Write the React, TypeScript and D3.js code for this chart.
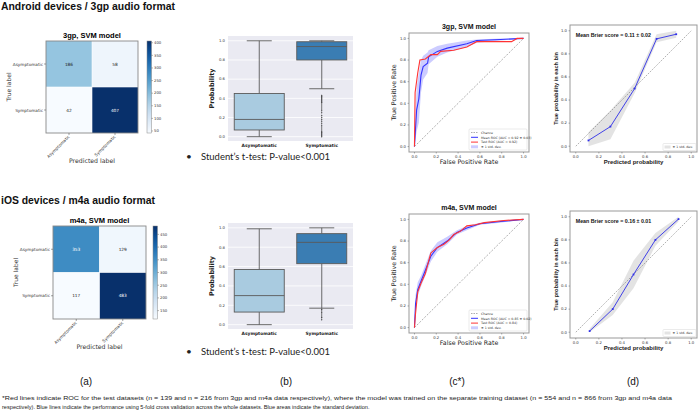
import React from "react";
import * as d3 from "d3";

// ---------------- DATA ----------------
const classLabels = ["Asymptomatic", "Symptomatic"];
const cm3gp = [[186, 58], [42, 407]];
const cmM4a = [[353, 129], [117, 483]];
const cbTicks3gp = [50, 100, 150, 200, 250, 300, 350, 400];
const cbTicksM4a = [150, 200, 250, 300, 350, 400, 450];

// box plot stats per class [Asymptomatic, Symptomatic]
const boxLo3gp = [0.0, 0.5];
const boxQ1_3gp = [0.07, 0.8];
const boxMed3gp = [0.18, 0.94];
const boxQ3_3gp = [0.45, 0.99];
const boxHi3gp = [1.0, 1.0];
const outliers3gp = [0.43, 0.42, 0.41, 0.4, 0.39, 0.38, 0.37, 0.36, 0.35, 0.33, 0.31, 0.29, 0.27, 0.25, 0.22, 0.2, 0.18, 0.16, 0.14, 0.12, 0.1, 0.08, 0.06, 0.05, 0.04, 0.03, 0.02, 0.01, 0.0];

const boxLoM4a = [0.0, 0.17];
const boxQ1_M4a = [0.13, 0.63];
const boxMedM4a = [0.3, 0.85];
const boxQ3_M4a = [0.57, 0.94];
const boxHiM4a = [0.99, 1.0];
const outliersM4a = [0.16, 0.15, 0.13, 0.12, 0.1, 0.08, 0.07, 0.05];

const unitTicks = [0, 0.2, 0.4, 0.6, 0.8, 1.0];

// ROC curves [fpr, tpr]
const rocMean3gp: [number, number][] = [[0, 0], [0.02, 0.34], [0.04, 0.44], [0.06, 0.66], [0.08, 0.74], [0.12, 0.77], [0.13, 0.83], [0.21, 0.88], [0.3, 0.91], [0.48, 0.95], [0.57, 0.98], [0.79, 0.99], [1, 1]];
const rocUpper3gp = [0.05, 0.55, 0.68, 0.8, 0.84, 0.87, 0.89, 0.93, 0.95, 0.98, 0.99, 1.0, 1.0];
const rocLower3gp = [0.0, 0.14, 0.22, 0.5, 0.62, 0.68, 0.76, 0.83, 0.87, 0.92, 0.96, 0.98, 1.0];
const rocTest3gp: [number, number][] = [[0, 0], [0.006, 0.5], [0.03, 0.68], [0.05, 0.8], [0.1, 0.81], [0.15, 0.85], [0.21, 0.85], [0.24, 0.88], [0.36, 0.89], [0.48, 0.92], [0.57, 0.97], [0.89, 0.97], [0.94, 1.0], [1, 1]];

const rocMeanM4a: [number, number][] = [[0, 0], [0.01, 0.22], [0.03, 0.35], [0.06, 0.43], [0.1, 0.53], [0.15, 0.66], [0.21, 0.74], [0.3, 0.8], [0.39, 0.88], [0.48, 0.92], [0.6, 0.96], [0.79, 0.98], [1, 1]];
const rocUpperM4a = [0.02, 0.3, 0.42, 0.48, 0.58, 0.71, 0.79, 0.84, 0.9, 0.94, 0.97, 0.99, 1.0];
const rocLowerM4a = [0.0, 0.15, 0.29, 0.38, 0.48, 0.61, 0.7, 0.77, 0.86, 0.9, 0.95, 0.97, 1.0];
const rocTestM4a: [number, number][] = [[0, 0], [0.01, 0.13], [0.03, 0.33], [0.06, 0.41], [0.1, 0.5], [0.15, 0.69], [0.21, 0.74], [0.27, 0.77], [0.32, 0.81], [0.36, 0.86], [0.42, 0.89], [0.48, 0.94], [0.56, 0.95], [0.64, 0.97], [0.82, 0.99], [1, 1]];

// Calibration curves [mean predicted, fraction positive]
const cal3gp: [number, number][] = [[0.11, 0.05], [0.3, 0.17], [0.51, 0.5], [0.7, 0.93], [0.87, 0.97]];
const cal3gpLo = [0.0, 0.06, 0.46, 0.9, 0.94];
const cal3gpHi = [0.12, 0.31, 0.55, 0.97, 1.0];
const calM4a: [number, number][] = [[0.12, 0.01], [0.32, 0.2], [0.5, 0.5], [0.69, 0.8], [0.89, 0.98]];
const calM4aLo = [0.0, 0.15, 0.38, 0.75, 0.96];
const calM4aHi = [0.03, 0.26, 0.62, 0.86, 1.0];

const panelLabels = ["(a)", "(b)", "(c*)", "(d)"];
const footLine1 = "*Red lines indicate ROC for the test datasets (n = 139 and n =  216 from 3gp and m4a data respectively), where the model was trained on the separate training dataset (n = 554 and n =  866 from 3gp and m4a data";
const footLine2 = "respectively). Blue lines indicate the performance using 5-fold cross validation across the whole datasets. Blue areas indicate the standard deviation.";

// ---------------- STYLE ----------------
const MPL = "DejaVu Sans, sans-serif";
const ARIAL = "Liberation Sans, Arial, sans-serif";
const fmt1 = d3.format(".1f");

// ---------------- COMPONENTS ----------------
function ConfMat({ id, title, data, ticks, left, top, size, cbX }: any) {
  const flat = data.flat();
  const mn = d3.min(flat) as number, mx = d3.max(flat) as number;
  const color = d3.scaleSequential(d3.interpolateBlues).domain([mn, mx]);
  const xb = d3.scaleBand<number>().domain([0, 1]).range([left, left + size]);
  const yb = d3.scaleBand<number>().domain([0, 1]).range([top, top + size]);
  const cy = d3.scaleLinear().domain([mn, mx]).range([top + size, top]);
  const thresh = (mn + mx) / 2;
  const stops = d3.range(0, 1.0001, 0.1);
  const cbW = 4.5;
  return (
    <g>
      <defs>
        <linearGradient id={id} x1="0" y1="1" x2="0" y2="0">
          {stops.map((t) => (
            <stop key={t} offset={t} stopColor={color(mn + t * (mx - mn))} />
          ))}
        </linearGradient>
      </defs>
      <text x={left + size / 2} y={top - 3} textAnchor="middle" fontFamily={ARIAL} fontWeight="bold" fontSize={7.5}>{title}</text>
      {data.map((row: number[], i: number) =>
        row.map((v, j) => (
          <g key={`${i}-${j}`}>
            <rect x={xb(j)} y={yb(i)} width={xb.bandwidth()} height={yb.bandwidth()} fill={color(v)} />
            <text x={(xb(j) as number) + xb.bandwidth() / 2} y={(yb(i) as number) + yb.bandwidth() / 2 + 1.5} textAnchor="middle" fontFamily={MPL} fontSize={4.3} fill={v > thresh ? "#fff" : "#222"}>{v}</text>
          </g>
        ))
      )}
      <line x1={left + size / 2} x2={left + size / 2} y1={top} y2={top + size} stroke="#fff" strokeWidth={0.6} />
      <line x1={left} x2={left + size} y1={top + size / 2} y2={top + size / 2} stroke="#fff" strokeWidth={0.6} />
      <rect x={left} y={top} width={size} height={size} fill="none" stroke="#888" strokeWidth={0.9} />
      {classLabels.map((l, i) => (
        <g key={l}>
          <line x1={left - 2} x2={left} y1={(yb(i) as number) + yb.bandwidth() / 2} y2={(yb(i) as number) + yb.bandwidth() / 2} stroke="#444" strokeWidth={0.5} />
          <text x={left - 3} y={(yb(i) as number) + yb.bandwidth() / 2 + 1.5} textAnchor="end" fontFamily={MPL} fontSize={4.2} fill="#333">{l}</text>
          <line x1={(xb(i) as number) + xb.bandwidth() / 2} x2={(xb(i) as number) + xb.bandwidth() / 2} y1={top + size} y2={top + size + 2} stroke="#444" strokeWidth={0.5} />
          <text transform={`translate(${(xb(i) as number) + xb.bandwidth() / 2 + 1},${top + size + 4}) rotate(-45)`} textAnchor="end" fontFamily={MPL} fontSize={4.2} fill="#333">{l}</text>
        </g>
      ))}
      <text transform={`translate(${left - 35},${top + size / 2}) rotate(-90)`} textAnchor="middle" fontFamily={MPL} fontSize={6} fill="#333">True label</text>
      <text x={left + size / 2} y={top + size + 30} textAnchor="middle" fontFamily={MPL} fontSize={6.2} fill="#333">Predicted label</text>
      <rect x={cbX} y={top} width={cbW} height={size} fill={`url(#${id})`} stroke="#888" strokeWidth={0.5} />
      {ticks.map((t: number) => (
        <g key={t}>
          <line x1={cbX + cbW} x2={cbX + cbW + 1.5} y1={cy(t)} y2={cy(t)} stroke="#444" strokeWidth={0.4} />
          <text x={cbX + cbW + 2.5} y={cy(t) + 1.3} fontFamily={MPL} fontSize={3.8} fill="#333">{t}</text>
        </g>
      ))}
    </g>
  );
}

function BoxPlot({ lo, q1, med, q3, hi, outliers, left, top, w, h }: any) {
  const y = d3.scaleLinear().domain([-0.045, 1.05]).range([top + h, top]);
  const x = d3.scaleBand<number>().domain([0, 1]).range([left, left + w]);
  const bw = x.bandwidth() * 0.8;
  const fills = ["#a9cbe0", "#3a7db3"];
  const edge = "#5a5a5a";
  return (
    <g>
      <rect x={left} y={top} width={w} height={h} fill="#eaeaf2" />
      {unitTicks.map((t) => (
        <g key={t}>
          <line x1={left} x2={left + w} y1={y(t)} y2={y(t)} stroke="#fff" strokeWidth={0.8} />
          <text x={left - 3} y={y(t) + 1.3} textAnchor="end" fontFamily={MPL} fontSize={3.8} fill="#333">{fmt1(t)}</text>
        </g>
      ))}
      {[0, 1].map((i) => {
        const cx = (x(i) as number) + x.bandwidth() / 2;
        return (
          <g key={i}>
            <line x1={cx} x2={cx} y1={y(q3[i])} y2={y(hi[i])} stroke={edge} strokeWidth={0.9} />
            <line x1={cx} x2={cx} y1={y(q1[i])} y2={y(lo[i])} stroke={edge} strokeWidth={0.9} />
            <line x1={cx - bw / 4} x2={cx + bw / 4} y1={y(hi[i])} y2={y(hi[i])} stroke={edge} strokeWidth={0.9} />
            <line x1={cx - bw / 4} x2={cx + bw / 4} y1={y(lo[i])} y2={y(lo[i])} stroke={edge} strokeWidth={0.9} />
            <rect x={cx - bw / 2} y={y(q3[i])} width={bw} height={y(q1[i]) - y(q3[i])} fill={fills[i]} stroke={edge} strokeWidth={0.9} />
            <line x1={cx - bw / 2} x2={cx + bw / 2} y1={y(med[i])} y2={y(med[i])} stroke={edge} strokeWidth={0.9} />
            <text x={cx} y={top + h + 6} textAnchor="middle" fontFamily={MPL} fontWeight="bold" fontSize={4.4} fill="#222">{classLabels[i]}</text>
          </g>
        );
      })}
      {outliers.map((o: number, k: number) => {
        const cx = (x(1) as number) + x.bandwidth() / 2;
        return <path key={k} d={`M${cx},${y(o) - 1}L${cx + 0.7},${y(o)}L${cx},${y(o) + 1}L${cx - 0.7},${y(o)}Z`} fill="#3a3a3a" />;
      })}
      <text transform={`translate(${left - 14},${top + h / 2}) rotate(-90)`} textAnchor="middle" fontFamily={MPL} fontWeight="bold" fontSize={6.5} fill="#222">Probability</text>
    </g>
  );
}

function RocPlot({ title, mean, upper, lower, test, meanLabel, testLabel, left, top, w, h }: any) {
  const x = d3.scaleLinear().domain([-0.05, 1.05]).range([left, left + w]);
  const y = d3.scaleLinear().domain([-0.05, 1.05]).range([top + h, top]);
  const line = d3.line<[number, number]>().x((d) => x(d[0])).y((d) => y(d[1]));
  const area = d3.area<[number, number]>().x((d) => x(d[0])).y0((d, i) => y(lower[i])).y1((d, i) => y(upper[i]));
  const lx = left + w - 60, ly = top + h - 23;
  return (
    <g>
      <text x={left + w / 2} y={top - 4} textAnchor="middle" fontFamily={ARIAL} fontWeight="bold" fontSize={7} fill="#111">{title}</text>
      <path d={area(mean) as string} fill="#0000ff" fillOpacity={0.2} />
      <line x1={x(0)} y1={y(0)} x2={x(1)} y2={y(1)} stroke="#777" strokeWidth={0.6} strokeDasharray="2,1.5" />
      <path d={line(mean) as string} fill="none" stroke="#3333ff" strokeWidth={1.1} />
      <path d={line(test) as string} fill="none" stroke="#ff3333" strokeWidth={1.1} />
      <rect x={left} y={top} width={w} height={h} fill="none" stroke="#999" strokeWidth={1} />
      {unitTicks.map((t) => (
        <g key={t}>
          <line x1={x(t)} x2={x(t)} y1={top + h} y2={top + h + 1.5} stroke="#444" strokeWidth={0.4} />
          <text x={x(t)} y={top + h + 5.5} textAnchor="middle" fontFamily={MPL} fontSize={3.8} fill="#333">{fmt1(t)}</text>
          <line x1={left - 1.5} x2={left} y1={y(t)} y2={y(t)} stroke="#444" strokeWidth={0.4} />
          <text x={left - 3} y={y(t) + 1.3} textAnchor="end" fontFamily={MPL} fontSize={3.8} fill="#333">{fmt1(t)}</text>
        </g>
      ))}
      <text x={left + w / 2} y={top + h + 12} textAnchor="middle" fontFamily={MPL} fontSize={6.3} fill="#222">False Positive Rate</text>
      <text transform={`translate(${left - 13},${top + h / 2}) rotate(-90)`} textAnchor="middle" fontFamily={MPL} fontSize={6.3} fill="#222">True Positive Rate</text>
      <rect x={lx} y={ly} width={58} height={21} fill="#fff" fillOpacity={0.85} stroke="#ccc" strokeWidth={0.4} rx={1} />
      <line x1={lx + 2} x2={lx + 9} y1={ly + 3.5} y2={ly + 3.5} stroke="#777" strokeWidth={0.6} strokeDasharray="1.5,1" />
      <text x={lx + 12} y={ly + 4.7} fontFamily={MPL} fontSize={3.2} fill="#333">Chance</text>
      <line x1={lx + 2} x2={lx + 9} y1={ly + 8.3} y2={ly + 8.3} stroke="#3333ff" strokeWidth={1} />
      <text x={lx + 12} y={ly + 9.5} fontFamily={MPL} fontSize={3.2} fill="#333">{meanLabel}</text>
      <line x1={lx + 2} x2={lx + 9} y1={ly + 13.1} y2={ly + 13.1} stroke="#ff3333" strokeWidth={1} />
      <text x={lx + 12} y={ly + 14.3} fontFamily={MPL} fontSize={3.2} fill="#333">{testLabel}</text>
      <rect x={lx + 2} y={ly + 16.3} width={7} height={3} fill="#0000ff" fillOpacity={0.2} />
      <text x={lx + 12} y={ly + 19.1} fontFamily={MPL} fontSize={3.2} fill="#333">± 1 std. dev.</text>
    </g>
  );
}

function CalPlot({ title, pts, lo, hi, left, top, w, h }: any) {
  const x = d3.scaleLinear().domain([-0.05, 1.05]).range([left, left + w]);
  const y = d3.scaleLinear().domain([-0.05, 1.05]).range([top + h, top]);
  const line = d3.line<[number, number]>().x((d) => x(d[0])).y((d) => y(d[1]));
  const area = d3.area<[number, number]>().x((d) => x(d[0])).y0((d, i) => y(lo[i])).y1((d, i) => y(hi[i]));
  return (
    <g>
      <path d={area(pts) as string} fill="#808080" fillOpacity={0.22} />
      <line x1={x(0)} y1={y(0)} x2={x(1)} y2={y(1)} stroke="#666" strokeWidth={0.5} strokeDasharray="1.8,1.2" />
      <path d={line(pts) as string} fill="none" stroke="#2f2fe8" strokeWidth={0.9} />
      {pts.map((p: [number, number], i: number) => (
        <rect key={i} x={x(p[0]) - 0.9} y={y(p[1]) - 0.9} width={1.8} height={1.8} fill="#2f2fe8" />
      ))}
      <rect x={left} y={top} width={w} height={h} fill="none" stroke="#999" strokeWidth={1} />
      {unitTicks.map((t) => (
        <g key={t}>
          <line x1={x(t)} x2={x(t)} y1={top + h} y2={top + h + 1.5} stroke="#444" strokeWidth={0.4} />
          <text x={x(t)} y={top + h + 5.5} textAnchor="middle" fontFamily={MPL} fontSize={3.8} fill="#333">{fmt1(t)}</text>
          <line x1={left - 1.5} x2={left} y1={y(t)} y2={y(t)} stroke="#444" strokeWidth={0.4} />
          <text x={left - 3} y={y(t) + 1.3} textAnchor="end" fontFamily={MPL} fontSize={3.8} fill="#333">{fmt1(t)}</text>
        </g>
      ))}
      <text x={x(0)} y={top + 11.5} fontFamily={ARIAL} fontWeight="bold" fontSize={5.3} fill="#111">{title}</text>
      <text x={left + w / 2} y={top + h + 12} textAnchor="middle" fontFamily={ARIAL} fontWeight="bold" fontSize={6} fill="#222">Predicted probability</text>
      <text transform={`translate(${left - 12},${top + h / 2}) rotate(-90)`} textAnchor="middle" fontFamily={ARIAL} fontWeight="bold" fontSize={5.6} fill="#222">True probability in each bin</text>
      <rect x={left + w - 34} y={top + h - 8.5} width={33} height={7} fill="#fff" stroke="#ccc" strokeWidth={0.4} rx={1} />
      <rect x={left + w - 32.5} y={top + h - 6.5} width={6} height={3} fill="#808080" fillOpacity={0.22} />
      <text x={left + w - 24.5} y={top + h - 3.8} fontFamily={MPL} fontSize={3.2} fill="#333">± 1 std. dev.</text>
    </g>
  );
}

function Bullet({ y }: { y: number }) {
  return (
    <g fontFamily="Lato, Open Sans, sans-serif" fill="#222">
      <text x={186} y={y} fontSize={10}>•</text>
      <text x={201} y={y} fontSize={10} textLength={129} lengthAdjust="spacingAndGlyphs">Student’s t-test: P-value&lt;0.001</text>
    </g>
  );
}

const panelX = d3.scalePoint<string>().domain(panelLabels).range([86, 633]);
const panelPos = [86, 286, 457, 633];

export default function App() {
  return (
    <svg width={700} height={415} style={{ position: "absolute", left: 0, top: 0, background: "#fff" }}>
      <rect width={700} height={415} fill="#fff" />
      <text x={1} y={10} fontFamily={ARIAL} fontWeight="bold" fontSize={10} textLength={174} lengthAdjust="spacingAndGlyphs" fill="#111">Android devices / 3gp audio format</text>
      <text x={1} y={204} fontFamily={ARIAL} fontWeight="bold" fontSize={10} textLength={154} lengthAdjust="spacingAndGlyphs" fill="#111">iOS devices / m4a audio format</text>

      <ConfMat id="cb3gp" title="3gp, SVM model" data={cm3gp} ticks={cbTicks3gp} left={46} top={41} size={92} cbX={147} />
      <ConfMat id="cbm4a" title="m4a, SVM model" data={cmM4a} ticks={cbTicksM4a} left={53} top={226} size={93} cbX={153} />

      <BoxPlot lo={boxLo3gp} q1={boxQ1_3gp} med={boxMed3gp} q3={boxQ3_3gp} hi={boxHi3gp} outliers={outliers3gp} left={228} top={36} w={125} h={105} />
      <BoxPlot lo={boxLoM4a} q1={boxQ1_M4a} med={boxMedM4a} q3={boxQ3_M4a} hi={boxHiM4a} outliers={outliersM4a} left={228} top={223} w={125} h={106} />
      <Bullet y={160} />
      <Bullet y={355} />

      <RocPlot title="3gp, SVM model" mean={rocMean3gp} upper={rocUpper3gp} lower={rocLower3gp} test={rocTest3gp} meanLabel="Mean ROC (AUC = 0.92 ± 0.03)" testLabel="Test ROC (AUC = 0.92)" left={409} top={33} w={120} h={119} />
      <RocPlot title="m4a, SVM model" mean={rocMeanM4a} upper={rocUpperM4a} lower={rocLowerM4a} test={rocTestM4a} meanLabel="Mean ROC (AUC = 0.85 ± 0.02)" testLabel="Test ROC (AUC = 0.84)" left={409} top={214} w={120} h={119} />

      <CalPlot title="Mean Brier score = 0.11 ± 0.02" pts={cal3gp} lo={cal3gpLo} hi={cal3gpHi} left={570} top={25} w={127} h={127} />
      <CalPlot title="Mean Brier score = 0.16 ± 0.01" pts={calM4a} lo={calM4aLo} hi={calM4aHi} left={570} top={211} w={127} h={127} />

      {panelLabels.map((t, i) => (
        <text key={t} x={panelPos[i] ?? panelX(t)} y={385} textAnchor="middle" fontFamily={ARIAL} fontSize={10} fill="#111">{t}</text>
      ))}
      <text x={2} y={400} fontFamily={ARIAL} fontSize={5.6} textLength={670} lengthAdjust="spacingAndGlyphs" fill="#222">{footLine1}</text>
      <text x={2} y={408.5} fontFamily={ARIAL} fontSize={5.6} fill="#222">{footLine2}</text>
    </svg>
  );
}
